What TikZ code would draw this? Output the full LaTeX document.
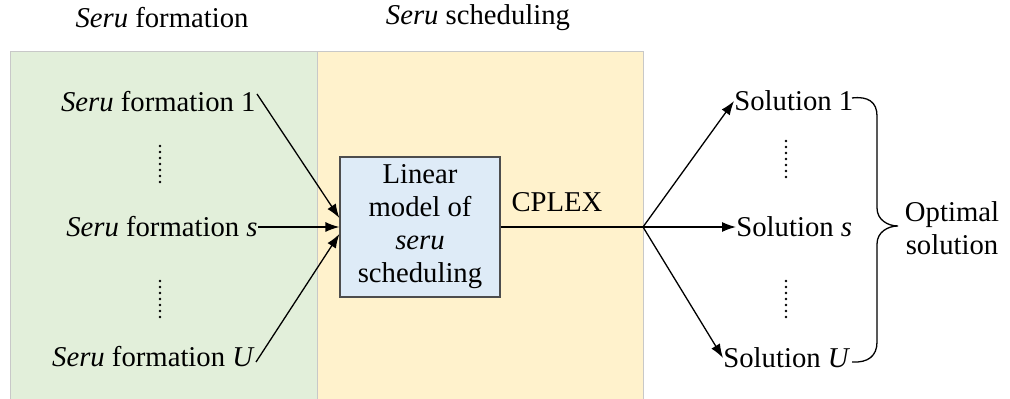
\documentclass[tikz,border=0pt]{standalone}
\usepackage{fontspec}
\setmainfont{Liberation Serif}
\usetikzlibrary{arrows.meta}
\definecolor{formfill}{HTML}{E2EFDA}
\definecolor{schedfill}{HTML}{FFF2CC}
\definecolor{modelfill}{HTML}{DEEBF7}
\definecolor{panelline}{HTML}{C8C8C8}
\definecolor{modelline}{HTML}{4D4D4D}
\tikzset{
  lbl/.style={inner sep=0pt, font=\fontsize{14.35}{16.5}\selectfont},
  panel/.style={draw=panelline, line width=0.5pt},
  arr/.style={line width=0.65pt, -{Latex[length=7pt,width=5pt]}},
  plain/.style={line width=0.65pt},
  vdots/.style={line width=1.4pt, line cap=round, dash pattern=on 0pt off 3pt},
}
\begin{document}
\begin{tikzpicture}[x=0.5pt,y=-0.5pt]
\useasboundingbox (0,0) rectangle (1010,399);
% background panels
\fill[formfill] (10,52) rectangle (317,402);
\fill[schedfill] (317,52) rectangle (643,402);
\draw[panel] (10,402) -- (10,52) -- (643,52) -- (643,402);
\draw[panel] (317,52) -- (317,402);
% panel titles
\node[lbl] (t1) at (162,18) {\textit{Seru} formation};
\node[lbl] (t2) at (478,18) {\textit{Seru} scheduling};
% formation inputs
\node[lbl, anchor=east] (f1) at (256,102) {\textit{Seru} formation 1};
\node[lbl, anchor=east] (fs) at (258,227) {\textit{Seru} formation \textit{s}};
\node[lbl, anchor=east] (fu) at (255,357) {\textit{Seru} formation \textit{U}};
\coordinate (f1e) at (257,94);
\coordinate (fue) at (256,362);
\draw[vdots] (160,146) -- (160,185);
\draw[vdots] (160,281) -- (160,318);
% model box
\node[draw=modelline, fill=modelfill, line width=0.6pt, minimum width=80pt, minimum height=70pt,
      align=center, inner sep=0pt, font=\fontsize{14.35}{16.5}\selectfont]
      (m) at (420,227) {Linear\\model of\\\textit{seru}\\scheduling};
\draw[arr] (f1e) -- ([yshift=4.5pt]m.west);
\draw[arr] (fs.east) -- (m.west);
\draw[arr] (fue) -- ([yshift=-3.5pt]m.west);
% solver and solutions
\node[lbl] (cp) at (557,202) {CPLEX};
\coordinate (fork) at (643,227);
\draw[plain] (m.east) -- (fork);
\node[lbl, anchor=west] (s1) at (734,101) {Solution 1};
\node[lbl, anchor=west] (ss) at (736,227) {Solution \textit{s}};
\node[lbl, anchor=west] (su) at (723,358) {Solution \textit{U}};
\draw[arr] (fork) -- (s1.west);
\draw[arr] (fork) -- (ss.west);
\draw[arr] (fork) -- (su.west);
\draw[vdots] (786,141) -- (786,178);
\draw[vdots] (786,281) -- (786,318);
% brace
\coordinate (b0) at (852,98);
\coordinate (b1) at (852,362);
\draw[plain] (b0) .. controls (868,96) and (877,102) .. (877,116)
  -- (877,208) .. controls (877,220) and (888,226) .. (898,226)
  .. controls (888,226) and (877,232) .. (877,244)
  -- (877,342) .. controls (877,356) and (868,363) .. (b1);
\node[lbl, align=center] (opt) at (952,228) {Optimal\\solution};
\end{tikzpicture}
\end{document}
